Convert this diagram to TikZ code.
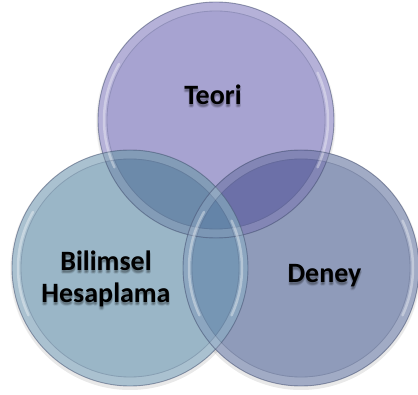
\documentclass[tikz,border=0pt]{standalone}
\usepackage{fontspec}
\setmainfont{Carlito}
\definecolor{topc}{RGB}{167,163,209}
\definecolor{leftc}{RGB}{154,182,199}
\definecolor{rightc}{RGB}{143,155,186}
\definecolor{tlc}{RGB}{108,138,170}
\definecolor{trc}{RGB}{108,112,168}
\definecolor{lrc}{RGB}{118,150,180}
\definecolor{tric}{RGB}{100,132,168}
\definecolor{rimc}{RGB}{80,90,120}
\begin{document}
\begin{tikzpicture}[x=1pt,y=1pt,
  lbl/.style={font=\bfseries\fontsize{28}{32}\selectfont, align=center, text=black, inner sep=0pt},
  shd/.style={lbl, text=black, text opacity=0.07},
  rimband/.style={draw=white, draw opacity=0.16, line width=8pt},
  rimin/.style={draw=rimc, draw opacity=0.25, line width=0.8pt},
  rimline/.style={draw=rimc, draw opacity=0.55, line width=0.9pt},
  hilite/.style={draw=white, draw opacity=0.35, line width=2.5pt, line cap=round},
]
\useasboundingbox (0,0) rectangle (418,394);
\coordinate (T) at (216,274);
\coordinate (L) at (130,126);
\coordinate (R) at (301,126);
% soft shadows
\foreach \c in {T,L,R}{
  \fill[black, opacity=0.05] ([yshift=-3pt]\c) circle (119);
  \fill[black, opacity=0.04] ([yshift=-2pt]\c) circle (120);
}
% base fills
\fill[topc] (T) circle (118);
\fill[leftc] (L) circle (118);
\fill[rightc] (R) circle (118);
\begin{scope}
  \clip (T) circle (118);
  \fill[tlc] (L) circle (118);
  \fill[trc] (R) circle (118);
\end{scope}
\begin{scope}
  \clip (L) circle (118);
  \fill[lrc] (R) circle (118);
  \clip (T) circle (118);
  \fill[tric] (R) circle (118);
\end{scope}
% rims
\foreach \c in {T,L,R}{
  \draw[rimband] (\c) circle (113.5);
  \draw[rimin] (\c) circle (109);
  \draw[rimline] (\c) circle (118);
  \draw[hilite] ([shift={(150:112)}]\c) arc (150:205:112);
  \draw[hilite] ([shift={(-25:112)}]\c) arc (-25:25:112);
}
% labels with soft shadows
\foreach \dx/\dy in {0/-2,1/-3,0/-4,-1/-3,1/-2,0/-3}{
  \node[shd, anchor=base] at (213+\dx,289+\dy) {Teori};
  \node[shd] at (106+\dx,115+\dy) {Bilimsel\\Hesaplama};
  \node[shd, anchor=base] at (324.5+\dx,111+\dy) {Deney};
}
\node[lbl, anchor=base] (teori) at (213,289) {Teori};
\node[lbl] (bh) at (106,115) {Bilimsel\\Hesaplama};
\node[lbl, anchor=base] (deney) at (324.5,111) {Deney};
\end{tikzpicture}
\end{document}
